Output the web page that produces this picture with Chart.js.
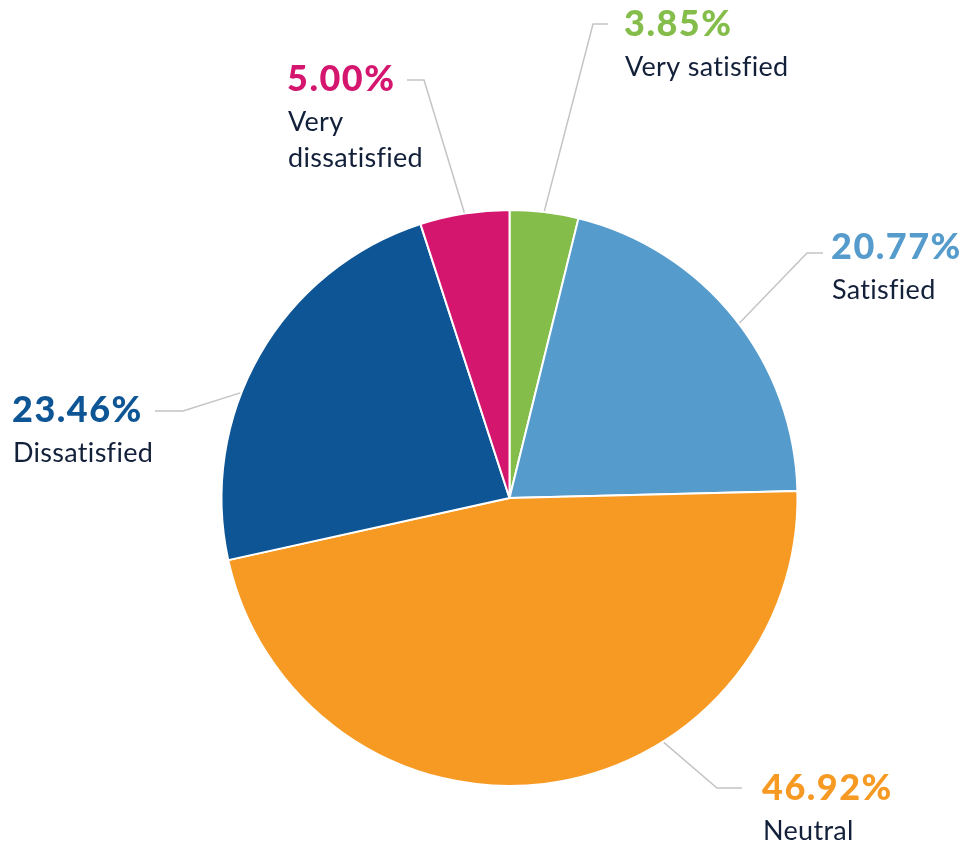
<!DOCTYPE html>
<html>
<head>
<meta charset="utf-8">
<script src="https://cdn.jsdelivr.net/npm/chart.js@4.4.1/dist/chart.umd.min.js"></script>
<style>
  html, body { margin: 0; padding: 0; background: #fff; }
  #wrap { width: 965px; height: 848px; position: relative; }
</style>
</head>
<body>
<div id="wrap"><canvas id="satisfactionChart"></canvas></div>
<script>
// Categories and values (percent)
const categories = ['Very satisfied', 'Satisfied', 'Neutral', 'Dissatisfied', 'Very dissatisfied'];
const shares = [3.85, 20.77, 46.92, 23.46, 5.00];
const sliceColors = ['#84bd4a', '#559bcc', '#f79a24', '#0e5595', '#d4166f'];

// Label layout: where the leader line leaves the slice (fraction along the arc),
// the elbow, the line end and where the text sits
const labelLayout = [
    { frac: 0.5,  elbow: [593, 24],  end: [608, 24],  x: 624, y: 24,  lines: ['Very satisfied'] },
    { frac: 0.52, elbow: [807, 253], end: [823, 253], x: 831, y: 247, lines: ['Satisfied'] },
    { frac: 0.35, elbow: [717, 788], end: [742, 788], x: 762, y: 788, lines: ['Neutral'] },
    { frac: 0.40, elbow: [183, 411], end: [155, 411], x: 12,  y: 410, lines: ['Dissatisfied'] },
    { frac: 0.5,  elbow: [424, 80],  end: [407, 80],  x: 287, y: 79,  lines: ['Very', 'dissatisfied'] }
];

const calloutPlugin = {
    id: 'callouts',
    afterDatasetsDraw(chart) {
        const ctx = chart.ctx;
        const arcs = chart.getDatasetMeta(0).data;
        ctx.save();
        arcs.forEach((arc, i) => {
            const lay = labelLayout[i];
            const p = arc.getProps(['x', 'y', 'startAngle', 'endAngle', 'outerRadius'], true);
            const ang = p.startAngle + (p.endAngle - p.startAngle) * lay.frac;
            const ax = p.x + Math.cos(ang) * (p.outerRadius + 1);
            const ay = p.y + Math.sin(ang) * (p.outerRadius + 1);

            // leader line
            ctx.strokeStyle = '#c4c4c4';
            ctx.lineWidth = 1.5;
            ctx.beginPath();
            ctx.moveTo(ax, ay);
            ctx.lineTo(lay.elbow[0], lay.elbow[1]);
            ctx.lineTo(lay.end[0], lay.end[1]);
            ctx.stroke();

            // percentage
            ctx.textAlign = 'left';
            ctx.textBaseline = 'middle';
            ctx.fillStyle = sliceColors[i];
            ctx.font = '900 36px Lato';
            ctx.letterSpacing = '1.5px';
            ctx.fillText(shares[i].toFixed(2) + '%', lay.x, lay.y);

            // category name
            ctx.fillStyle = '#13203a';
            ctx.font = '400 27px Lato';
            ctx.letterSpacing = '0.3px';
            lay.lines.forEach((t, k) => {
                ctx.fillText(t, lay.x + 1, lay.y + 43 + k * 36);
            });
        });
        ctx.restore();
    }
};

new Chart(document.getElementById('satisfactionChart'), {
    type: 'pie',
    data: {
        labels: categories,
        datasets: [{
            data: shares,
            backgroundColor: sliceColors,
            borderColor: '#ffffff',
            borderWidth: 2
        }]
    },
    options: {
        responsive: true,
        maintainAspectRatio: false,
        animation: false,
        layout: { padding: { left: 220, right: 166, top: 209, bottom: 61 } },
        plugins: {
            legend: { display: false },
            tooltip: { enabled: false }
        }
    },
    plugins: [calloutPlugin]
});
</script>
</body>
</html>
